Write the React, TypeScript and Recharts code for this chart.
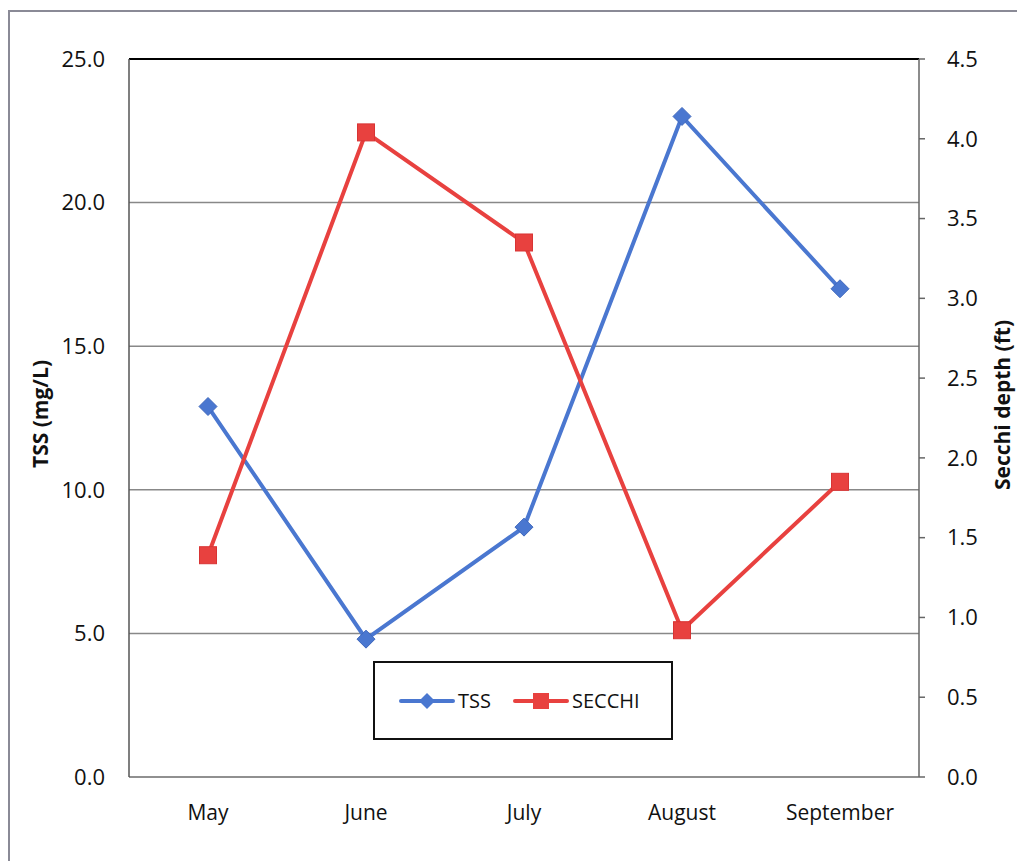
import React from "react"
import { LineChart, Line, XAxis, YAxis, CartesianGrid, ReferenceLine } from "recharts"

const months = ["May", "June", "July", "August", "September"]
const tss = [12.9, 4.8, 8.7, 23.0, 17.0]
const secchi = [1.39, 4.04, 3.35, 0.92, 1.85]
const leftTicks = [0, 5, 10, 15, 20, 25]
const rightTicks = [0, 0.5, 1, 1.5, 2, 2.5, 3, 3.5, 4, 4.5]

const BLUE = "#4a77d0"
const RED = "#e8413f"
const FONT = "'Open Sans', sans-serif"

const data = months.map((m, i) => ({ month: m, TSS: tss[i], SECCHI: secchi[i] }))

function Diamond(props: any) {
  const { cx, cy } = props
  if (cx == null || cy == null) return null
  const r = 9
  return (
    <path
      d={`M${cx},${cy - r} L${cx + r},${cy} L${cx},${cy + r} L${cx - r},${cy} Z`}
      fill={BLUE}
      stroke="#3f68bd"
      strokeWidth={1}
    />
  )
}

function Square(props: any) {
  const { cx, cy } = props
  if (cx == null || cy == null) return null
  const h = 8.5
  return <rect x={cx - h} y={cy - h} width={h * 2} height={h * 2} fill={RED} stroke="#d83434" strokeWidth={1} />
}

// legend drawn by hand so it doesn't eat into the plot area
function LegendBox() {
  const items = [
    { name: "TSS", color: BLUE },
    { name: "SECCHI", color: RED },
  ]
  return (
    <div
      style={{
        position: "absolute",
        left: 373,
        top: 661,
        width: 300,
        height: 79,
        border: "2px solid #111",
        background: "#fff",
        display: "flex",
        alignItems: "center",
        paddingLeft: 24,
        boxSizing: "border-box",
        fontFamily: FONT,
        fontSize: 20,
        color: "#111",
      }}
    >
      {items.map((p) => (
        <div key={p.name} style={{ display: "flex", alignItems: "center", marginRight: 22 }}>
          <svg width={56} height={20}>
            <line x1={2} y1={10} x2={54} y2={10} stroke={p.color} strokeWidth={4} strokeLinecap="round" />
            {p.name === "TSS" ? (
              <path d="M28,2 L36,10 L28,18 L20,10 Z" fill={BLUE} />
            ) : (
              <rect x={20} y={2} width={16} height={16} fill={RED} />
            )}
          </svg>
          <span style={{ marginLeft: 3 }}>{p.name}</span>
        </div>
      ))}
    </div>
  )
}

const axisTitle: React.CSSProperties = {
  position: "absolute",
  transform: "translate(-50%, -50%) rotate(-90deg)",
  fontFamily: FONT,
  fontWeight: 700,
  fontSize: 21,
  lineHeight: 1,
  whiteSpace: "nowrap",
  color: "#111",
}

export default function App() {
  return (
    <div style={{ position: "absolute", left: 0, top: 0, width: 1017, height: 861, background: "#fff", overflow: "hidden" }}>
      <div
        style={{
          position: "absolute",
          left: 8,
          top: 10,
          width: 1040,
          height: 870,
          borderLeft: "2px solid #8a8a96",
          borderTop: "2px solid #8a8a96",
        }}
      />
      <div style={{ ...axisTitle, left: 40, top: 414 }}>TSS (mg/L)</div>
      <div style={{ ...axisTitle, left: 1002, top: 405 }}>Secchi depth (ft)</div>
      <LineChart
        width={1017}
        height={861}
        data={data}
        margin={{ top: 59, right: 0, bottom: 0, left: 0 }}
        style={{ position: "absolute", left: 0, top: 0 }}
      >
        <CartesianGrid yAxisId="left" vertical={false} stroke="#888" strokeWidth={1.5} />
        <XAxis
          dataKey="month"
          height={84}
          padding={{ left: 79, right: 79 }}
          tickLine={false}
          tickSize={0}
          tickMargin={28}
          stroke="#888"
          strokeWidth={1.5}
          tick={{ fill: "#111", fontSize: 21, fontFamily: FONT }}
        />
        <YAxis
          yAxisId="left"
          width={129}
          domain={[0, 25]}
          ticks={leftTicks}
          interval={0}
          tickFormatter={(v: number) => v.toFixed(1)}
          tickLine={false}
          tickSize={0}
          tickMargin={24}
          stroke="#555"
          strokeWidth={1.5}
          tick={{ fill: "#111", fontSize: 22, fontFamily: FONT }}
        />
        <YAxis
          yAxisId="right"
          orientation="right"
          width={98}
          domain={[0, 4.5]}
          ticks={rightTicks}
          interval={0}
          tickFormatter={(v: number) => v.toFixed(1)}
          tickSize={6}
          tickMargin={22}
          stroke="#666"
          strokeWidth={1.5}
          tick={{ fill: "#111", fontSize: 22, fontFamily: FONT }}
        />
        <ReferenceLine yAxisId="left" y={25} stroke="#000" strokeWidth={2} />
        <Line
          yAxisId="left"
          dataKey="TSS"
          stroke={BLUE}
          strokeWidth={4}
          dot={<Diamond />}
          activeDot={false}
          isAnimationActive={false}
        />
        <Line
          yAxisId="right"
          dataKey="SECCHI"
          stroke={RED}
          strokeWidth={4}
          dot={<Square />}
          activeDot={false}
          isAnimationActive={false}
        />
      </LineChart>
      <LegendBox />
    </div>
  )
}
